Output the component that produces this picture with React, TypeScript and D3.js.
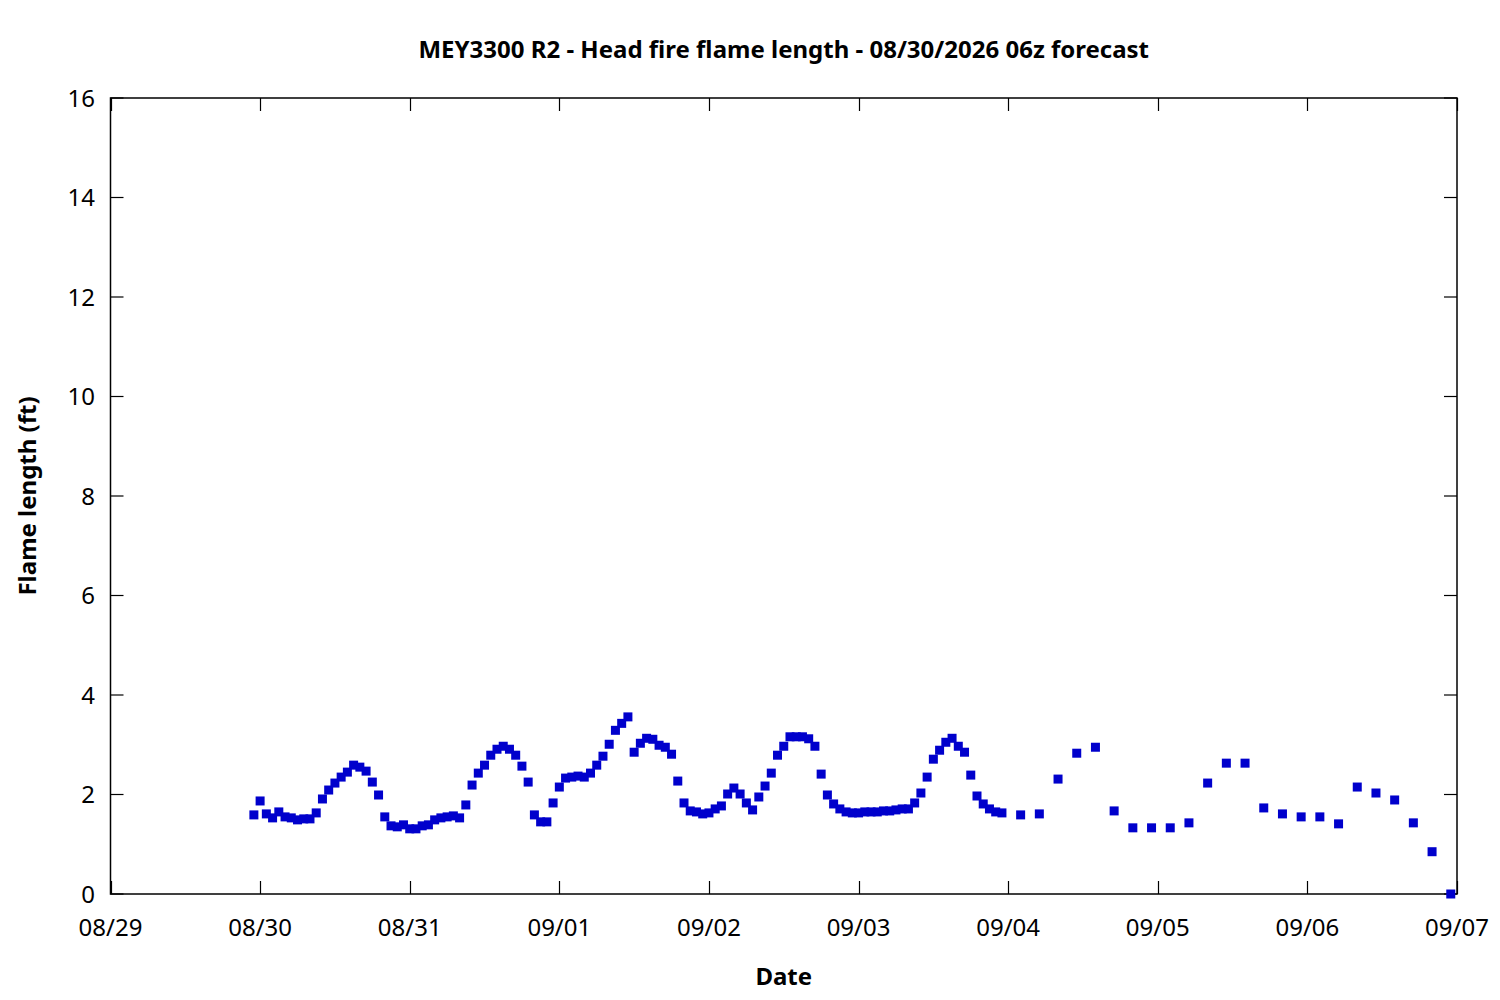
// App.tsx
//
// MEY3300 R2 head fire flame length forecast: gnuplot-style scatter of
// square markers, hourly for the first five days then 3-hourly.

import * as d3 from "d3";
import React, { useEffect, useRef } from "react";

// ── Data ──────────────────────────────────────────────────────────────────────
const TITLE = "MEY3300 R2 - Head fire flame length - 08/30/2026 06z forecast";
const X_LABEL = "Date";
const Y_LABEL = "Flame length (ft)";

// Hourly values, first sample at 08/29 23:00
const HOURLY_START = "2026-08-29T23:00:00Z";
const hourlyFlame = [
  1.59, 1.87, 1.61, 1.53, 1.65, 1.55, 1.53, 1.49, 1.51, 1.51,
  1.63, 1.91, 2.09, 2.23, 2.35, 2.45, 2.59, 2.55, 2.47, 2.25,
  1.99, 1.55, 1.37, 1.35, 1.39, 1.31, 1.31, 1.37, 1.39, 1.49,
  1.53, 1.55, 1.57, 1.53, 1.79, 2.19, 2.43, 2.59, 2.79, 2.91,
  2.97, 2.91, 2.79, 2.57, 2.25, 1.59, 1.45, 1.45, 1.83, 2.15,
  2.33, 2.35, 2.37, 2.35, 2.43, 2.59, 2.77, 3.01, 3.29, 3.43,
  3.56, 2.85, 3.03, 3.13, 3.11, 2.99, 2.95, 2.81, 2.27, 1.83,
  1.67, 1.65, 1.61, 1.63, 1.71, 1.77, 2.01, 2.13, 2.01, 1.83,
  1.69, 1.95, 2.17, 2.43, 2.79, 2.97, 3.16, 3.16, 3.16, 3.12,
  2.97, 2.41, 1.99, 1.81, 1.71, 1.65, 1.63, 1.63, 1.65, 1.65,
  1.65, 1.67, 1.67, 1.69, 1.71, 1.71, 1.83, 2.03, 2.35, 2.71,
  2.89, 3.05, 3.13, 2.97, 2.85, 2.39, 1.97, 1.81, 1.71, 1.65,
  1.63,
];

// 3-hourly values, first sample at 09/04 02:00
const THREE_HOURLY_START = "2026-09-04T02:00:00Z";
const threeHourlyFlame = [
  1.59, 1.61, 2.31, 2.83, 2.95, 1.67, 1.33, 1.33, 1.33, 1.43,
  2.23, 2.63, 2.63, 1.73, 1.61, 1.55, 1.55, 1.41, 2.15, 2.03,
  1.89, 1.43, 0.85, 0.0,
];

const X_DOMAIN = ["2026-08-29T00:00:00Z", "2026-09-07T00:00:00Z"];
const Y_DOMAIN = [0, 16];
const Y_TICKS = [0, 2, 4, 6, 8, 10, 12, 14, 16];

// ── Layout ────────────────────────────────────────────────────────────────────
const WIDTH = 1500;
const HEIGHT = 1000;
const M = { left: 110.5, right: 1457, top: 98, bottom: 894 };
const TICK = 13;
const MARKER = 9;
const COLOR = "#0000cc";
const FONT = "'Noto Sans', 'Open Sans', sans-serif";
const FS = 24;

type Pt = { t: Date; v: number };

export default function App() {
  const svgRef = useRef<SVGSVGElement>(null);

  useEffect(() => {
    const svg = d3.select(svgRef.current);
    svg.selectAll("*").remove();

    const x = d3
      .scaleUtc()
      .domain(X_DOMAIN.map((s) => new Date(s)))
      .range([M.left, M.right]);
    const y = d3.scaleLinear().domain(Y_DOMAIN).range([M.bottom, M.top]);

    const h0 = new Date(HOURLY_START);
    const t0 = new Date(THREE_HOURLY_START);
    const points: Pt[] = [
      ...hourlyFlame.map((v, i) => ({ t: d3.utcHour.offset(h0, i), v })),
      ...threeHourlyFlame.map((v, i) => ({ t: d3.utcHour.offset(t0, i * 3), v })),
    ];

    svg
      .append("rect")
      .attr("width", WIDTH)
      .attr("height", HEIGHT)
      .attr("fill", "#ffffff");

    // ── Ticks (inward, mirrored) ───────────────────────────────────────────
    const days = d3.utcDay.range(x.domain()[0], d3.utcDay.offset(x.domain()[1], 1));
    const g = svg.append("g").attr("stroke", "#000").attr("stroke-width", 1.2);

    days.forEach((d) => {
      const px = Math.round(x(d)) + 0.5;
      g.append("line").attr("x1", px).attr("x2", px).attr("y1", M.bottom).attr("y2", M.bottom - TICK);
      g.append("line").attr("x1", px).attr("x2", px).attr("y1", M.top).attr("y2", M.top + TICK);
    });
    Y_TICKS.forEach((v) => {
      const py = y(v);
      g.append("line").attr("x1", M.left).attr("x2", M.left + TICK).attr("y1", py).attr("y2", py);
      g.append("line").attr("x1", M.right).attr("x2", M.right - TICK).attr("y1", py).attr("y2", py);
    });

    // ── Frame ──────────────────────────────────────────────────────────────
    svg
      .append("rect")
      .attr("x", M.left)
      .attr("y", M.top)
      .attr("width", M.right - M.left)
      .attr("height", M.bottom - M.top)
      .attr("fill", "none")
      .attr("stroke", "#000")
      .attr("stroke-width", 1.5);

    // ── Tick labels ────────────────────────────────────────────────────────
    const fmt = d3.utcFormat("%m/%d");
    svg
      .append("g")
      .selectAll("text")
      .data(days)
      .join("text")
      .attr("x", (d) => x(d))
      .attr("y", 936)
      .attr("text-anchor", "middle")
      .attr("font-family", FONT)
      .attr("font-size", FS)
      .attr("fill", "#000")
      .text((d) => fmt(d));

    svg
      .append("g")
      .selectAll("text")
      .data(Y_TICKS)
      .join("text")
      .attr("x", 95)
      .attr("y", (d) => y(d) + 8.5)
      .attr("text-anchor", "end")
      .attr("font-family", FONT)
      .attr("font-size", FS)
      .attr("fill", "#000")
      .text((d) => String(d));

    // ── Markers ────────────────────────────────────────────────────────────
    svg
      .append("g")
      .selectAll("rect")
      .data(points)
      .join("rect")
      .attr("x", (d) => x(d.t) - MARKER / 2)
      .attr("y", (d) => y(d.v) - MARKER / 2)
      .attr("width", MARKER)
      .attr("height", MARKER)
      .attr("fill", COLOR);

    // ── Titles ─────────────────────────────────────────────────────────────
    const cx = (M.left + M.right) / 2;
    svg
      .append("text")
      .attr("x", cx)
      .attr("y", 58)
      .attr("text-anchor", "middle")
      .attr("font-family", FONT)
      .attr("font-size", FS)
      .attr("font-weight", "bold")
      .text(TITLE);

    svg
      .append("text")
      .attr("x", cx)
      .attr("y", 985)
      .attr("text-anchor", "middle")
      .attr("font-family", FONT)
      .attr("font-size", FS)
      .attr("font-weight", "bold")
      .text(X_LABEL);

    svg
      .append("text")
      .attr("transform", `translate(36,${(M.top + M.bottom) / 2}) rotate(-90)`)
      .attr("text-anchor", "middle")
      .attr("font-family", FONT)
      .attr("font-size", FS)
      .attr("font-weight", "bold")
      .text(Y_LABEL);
  }, []);

  return (
    <div style={{ position: "absolute", left: 0, top: 0 }}>
      <svg ref={svgRef} width={WIDTH} height={HEIGHT} viewBox={`0 0 ${WIDTH} ${HEIGHT}`} />
    </div>
  );
}
